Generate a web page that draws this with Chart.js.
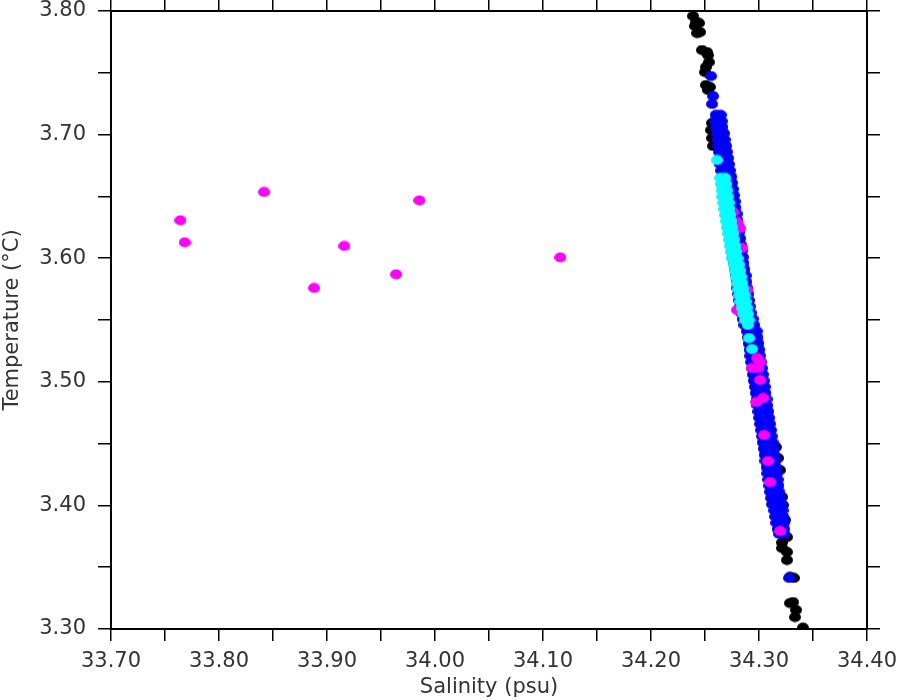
<!DOCTYPE html>
<html>
<head>
<meta charset="utf-8">
<script src="https://cdn.jsdelivr.net/npm/chart.js@4/dist/chart.umd.min.js"></script>
<style>
  html, body { margin: 0; padding: 0; background: #fff; }
</style>
</head>
<body>
<canvas id="chart" width="900" height="700"></canvas>
<script>
// axis ranges and labels
const SAL_MIN = 33.70, SAL_MAX = 34.40;
const TEMP_MIN = 3.30, TEMP_MAX = 3.80;
const SAL_TITLE = 'Salinity (psu)';
const TEMP_TITLE = 'Temperature (°C)';

// [salinity, temperature] pairs
const blackCasts = [
  [34.2389, 3.7960], [34.2417, 3.7911], [34.2444, 3.7903], [34.2407, 3.7879],
  [34.2454, 3.7830], [34.2426, 3.7822], [34.2472, 3.7684], [34.2519, 3.7668],
  [34.2528, 3.7644], [34.2537, 3.7587], [34.2509, 3.7547], [34.2500, 3.7506],
  [34.2509, 3.7401], [34.2546, 3.7385], [34.2528, 3.7361],
  [34.2565, 3.7094], [34.2556, 3.7037], [34.2565, 3.6972], [34.2574, 3.6908],
  [34.3157, 3.4472], [34.3176, 3.4383], [34.3194, 3.4286], [34.3167, 3.4165],
  [34.3213, 3.4068], [34.3222, 3.4003], [34.3241, 3.3882], [34.3259, 3.3744],
  [34.3213, 3.3700], [34.3213, 3.3655], [34.3259, 3.3623], [34.3259, 3.3558],
  [34.3287, 3.3421], [34.3324, 3.3413], [34.3287, 3.3210], [34.3315, 3.3218],
  [34.3343, 3.3154], [34.3333, 3.3097], [34.3407, 3.3011]
];

const blueCasts = [
  [34.2556, 3.7474], [34.2574, 3.7312], [34.2565, 3.7248],
  [34.2600, 3.716], [34.2645, 3.716], [34.2594, 3.711], [34.2654, 3.711],
  [34.2605, 3.706], [34.2662, 3.706], [34.2610, 3.701], [34.2676, 3.701],
  [34.2616, 3.696], [34.2681, 3.696], [34.2621, 3.691], [34.2694, 3.691],
  [34.2630, 3.686], [34.2702, 3.686], [34.2636, 3.681], [34.2713, 3.681],
  [34.2642, 3.676], [34.2722, 3.676], [34.2650, 3.671], [34.2730, 3.671],
  [34.2658, 3.666], [34.2743, 3.666], [34.2665, 3.661], [34.2750, 3.661],
  [34.2674, 3.656], [34.2758, 3.656], [34.2680, 3.651], [34.2767, 3.651],
  [34.2690, 3.646], [34.2775, 3.646], [34.2698, 3.641], [34.2782, 3.641],
  [34.2706, 3.636], [34.2793, 3.636], [34.2712, 3.631], [34.2800, 3.631],
  [34.2720, 3.626], [34.2808, 3.626], [34.2730, 3.621], [34.2816, 3.621],
  [34.2736, 3.616], [34.2825, 3.616], [34.2745, 3.611], [34.2832, 3.611],
  [34.2752, 3.606], [34.2840, 3.606], [34.2760, 3.601], [34.2850, 3.601],
  [34.2768, 3.596], [34.2856, 3.596], [34.2776, 3.591], [34.2865, 3.591],
  [34.2784, 3.586], [34.2876, 3.586], [34.2792, 3.581], [34.2882, 3.581],
  [34.2800, 3.576], [34.2890, 3.576], [34.2808, 3.571], [34.2900, 3.571],
  [34.2816, 3.566], [34.2906, 3.566], [34.2824, 3.561], [34.2915, 3.561],
  [34.2833, 3.556], [34.2923, 3.556], [34.2848, 3.551], [34.2940, 3.551],
  [34.2865, 3.546], [34.2955, 3.546], [34.2888, 3.541], [34.2978, 3.541],
  [34.2896, 3.536], [34.2986, 3.536], [34.2904, 3.531], [34.2995, 3.531],
  [34.2913, 3.526], [34.3002, 3.526], [34.2920, 3.521], [34.3010, 3.521],
  [34.2928, 3.516], [34.3020, 3.516], [34.2937, 3.511], [34.3028, 3.511],
  [34.2945, 3.506], [34.3035, 3.506], [34.2952, 3.501], [34.3045, 3.501],
  [34.2962, 3.496], [34.3052, 3.496], [34.2970, 3.491], [34.3060, 3.491],
  [34.2978, 3.486], [34.3070, 3.486], [34.2986, 3.481], [34.3076, 3.481],
  [34.2995, 3.476], [34.3085, 3.476], [34.3002, 3.471], [34.3093, 3.471],
  [34.3010, 3.466], [34.3102, 3.466], [34.3020, 3.461], [34.3110, 3.461],
  [34.3028, 3.456], [34.3117, 3.456], [34.3035, 3.451], [34.3126, 3.451],
  [34.3044, 3.446], [34.3134, 3.446], [34.3052, 3.441], [34.3142, 3.441],
  [34.3060, 3.436], [34.3150, 3.436], [34.3070, 3.431], [34.3157, 3.431],
  [34.3077, 3.426], [34.3165, 3.426], [34.3086, 3.421], [34.3172, 3.421],
  [34.3095, 3.416], [34.3180, 3.416], [34.3103, 3.411], [34.3187, 3.411],
  [34.3112, 3.406], [34.3195, 3.406], [34.3120, 3.401], [34.3203, 3.401],
  [34.3142, 3.396], [34.3218, 3.396], [34.3150, 3.391], [34.3224, 3.391],
  [34.3160, 3.386], [34.3230, 3.386], [34.3172, 3.381], [34.3232, 3.381],
  [34.3186, 3.377], [34.3234, 3.377],
  [34.3278, 3.3413]
];

const magentaCasts = [
  [33.7642, 3.6307], [33.7682, 3.6129], [33.8417, 3.6536], [33.8880, 3.5759],
  [33.9160, 3.6099], [33.9639, 3.5870], [33.9855, 3.6468], [34.1160, 3.6007],
  [34.2759, 3.6374], [34.2796, 3.6293], [34.2824, 3.6244], [34.2843, 3.6083],
  [34.2889, 3.5743], [34.2796, 3.5581], [34.2981, 3.5193], [34.3009, 3.5160],
  [34.2935, 3.5112], [34.2991, 3.5112], [34.3009, 3.5015], [34.3037, 3.4869],
  [34.2972, 3.4837], [34.3046, 3.4570], [34.3083, 3.4359], [34.3102, 3.4189],
  [34.3194, 3.3793]
];

const cyanCasts = [
  [34.2611, 3.6795],
  [34.2642, 3.665], [34.2686, 3.665], [34.2647, 3.660], [34.2695, 3.660],
  [34.2655, 3.655], [34.2703, 3.655], [34.2662, 3.650], [34.2710, 3.650],
  [34.2670, 3.645], [34.2718, 3.645], [34.2678, 3.640], [34.2726, 3.640],
  [34.2686, 3.635], [34.2734, 3.635], [34.2695, 3.630], [34.2743, 3.630],
  [34.2704, 3.625], [34.2752, 3.625], [34.2713, 3.620], [34.2761, 3.620],
  [34.2722, 3.615], [34.2770, 3.615], [34.2732, 3.610], [34.2780, 3.610],
  [34.2742, 3.605], [34.2790, 3.605], [34.2753, 3.600], [34.2801, 3.600],
  [34.2764, 3.595], [34.2812, 3.595], [34.2775, 3.590], [34.2823, 3.590],
  [34.2786, 3.585], [34.2834, 3.585], [34.2797, 3.580], [34.2845, 3.580],
  [34.2808, 3.575], [34.2856, 3.575], [34.2818, 3.570], [34.2866, 3.570],
  [34.2828, 3.565], [34.2876, 3.565], [34.2839, 3.560], [34.2887, 3.560],
  [34.2853, 3.555], [34.2897, 3.555], [34.2868, 3.550], [34.2905, 3.550],
  [34.2896, 3.546],
  [34.2907, 3.5354], [34.2935, 3.5265]
];

function dot(color) {
  const c = document.createElement('canvas');
  c.width = 12;
  c.height = 11;
  const g = c.getContext('2d');
  g.fillStyle = color;
  g.beginPath();
  g.ellipse(6, 5.5, 6, 5.1, 0, 0, Math.PI * 2);
  g.fill();
  return c;
}

function series(points, color) {
  return {
    data: points.map(p => ({ x: p[0], y: p[1] })),
    pointStyle: dot(color),
    pointRadius: 6,
    pointHoverRadius: 6,
    backgroundColor: color,
    borderColor: color,
  };
}

const FONT = { family: 'DejaVu Sans', size: 21 };
const TEXT = '#333';

function tenths(v) {
  return Math.round(v * 100) % 10 === 0 ? v.toFixed(2) : '';
}

const grid = { drawOnChartArea: false, drawTicks: true, tickLength: 12, color: '#000', lineWidth: 1.5 };
const border = { display: true, color: '#000', width: 2 };

// keep the plot frame where the reference puts it
function noPad(s) {
  s.paddingTop = 0;
  s.paddingBottom = 0;
  s.paddingLeft = 0;
  s.paddingRight = 0;
}

new Chart(document.getElementById('chart').getContext('2d'), {
  type: 'scatter',
  data: {
    // first dataset is drawn on top
    datasets: [
      series(cyanCasts, '#00ffff'),
      series(magentaCasts, '#ff00ff'),
      series(blueCasts, '#0000ff'),
      series(blackCasts, '#000000'),
    ]
  },
  options: {
    responsive: false,
    animation: false,
    layout: { padding: 0 },
    plugins: { legend: { display: false }, tooltip: { enabled: false } },
    scales: {
      x: {
        type: 'linear',
        position: 'bottom',
        min: SAL_MIN,
        max: SAL_MAX,
        grid: grid,
        border: border,
        ticks: { stepSize: 0.05, autoSkip: false, maxRotation: 0, callback: tenths, color: TEXT, font: FONT, padding: 8 },
        title: { display: true, text: SAL_TITLE, color: TEXT, font: FONT, padding: { top: 0, bottom: 0 } },
        afterFit: s => { noPad(s); s.height = 71; }
      },
      x2: {
        type: 'linear',
        position: 'top',
        min: SAL_MIN,
        max: SAL_MAX,
        grid: { ...grid, tickLength: 11 },
        border: border,
        ticks: { stepSize: 0.05, autoSkip: false, display: false },
        afterFit: s => { noPad(s); s.height = 11; }
      },
      y: {
        type: 'linear',
        position: 'left',
        min: TEMP_MIN,
        max: TEMP_MAX,
        grid: { ...grid, tickLength: 13 },
        border: border,
        ticks: { stepSize: 0.05, autoSkip: false, callback: tenths, color: TEXT, font: FONT, padding: 12 },
        title: { display: true, text: TEMP_TITLE, color: TEXT, font: FONT, padding: { top: 0, bottom: 0 } },
        afterFit: s => { noPad(s); s.width = 111; }
      },
      y2: {
        type: 'linear',
        position: 'right',
        min: TEMP_MIN,
        max: TEMP_MAX,
        grid: { ...grid, tickLength: 13 },
        border: border,
        ticks: { stepSize: 0.05, autoSkip: false, display: false },
        afterFit: s => { noPad(s); s.width = 33; }
      }
    }
  }
});
</script>
</body>
</html>
